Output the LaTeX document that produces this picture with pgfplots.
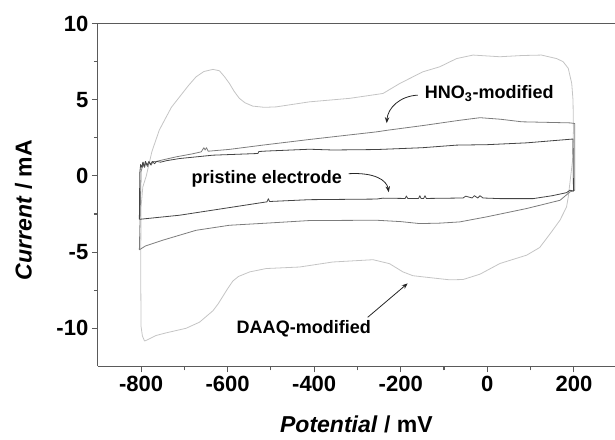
\documentclass[border=0pt]{standalone}
\usepackage{fontspec}
\setmainfont{Liberation Sans}
\usepackage{pgfplots}
\pgfplotsset{compat=1.18}
\usetikzlibrary{arrows.meta}
\definecolor{pristine}{HTML}{444444}
\definecolor{hno}{HTML}{7C7C7C}
\definecolor{daaq}{HTML}{C4C4C4}
\definecolor{frame}{HTML}{5A5A5A}
\begin{document}
\begin{tikzpicture}
\begin{axis}[
  name=ax,
  x=0.4323pt, y=15.22pt,
  xmin=-900, xmax=295, ymin=-12.5, ymax=10,
  axis x line*=box, axis y line*=left,
  tick pos=left, tick align=outside,
  axis line style={frame, line width=1.2pt},
  every tick/.style={frame, line width=1.1pt},
  major tick length=6pt, minor tick length=4pt,
  xtick={-800,-600,-400,-200,0,200},
  xticklabels={-800,-600,-400,-200,0,200},
  minor xtick={-700,-500,-300,-100,100},
  ytick={-10,-5,0,5,10},
  yticklabels={-10,-5,0,5,10},
  minor ytick={-7.5,-2.5,2.5,7.5},
  ticklabel style={font=\bfseries\fontsize{22}{26}\selectfont},
  xlabel={\textbf{\textit{Potential} / mV}},
  ylabel={\textbf{\textit{Current} / mA}},
  label style={font=\fontsize{23}{27}\selectfont},
  xlabel style={at={(axis description cs:0.5,-0.193)}, anchor=base},
  ylabel style={at={(axis description cs:-0.1436,0.456)}, anchor=center},
  clip=false,
]
% DAAQ-modified
\addplot[daaq, line width=0.8pt, line join=round] coordinates {
(-792,-10.84) (-797,-10.5) (-800,-9.9) (-801,-6) (-800,-2) (-796,-0.72)
(-788,0.0) (-775,1.6) (-758,3.0) (-746,3.65) (-730,4.5) (-711,5.19)
(-690,5.95) (-673,6.5) (-655,6.85) (-634,6.99) (-619,6.9) (-607,6.5)
(-596,6.07) (-585,5.55) (-573,5.09) (-560,4.8) (-542,4.58) (-515,4.5)
(-488,4.53) (-411,4.86) (-318,5.09) (-241,5.41) (-202,6.07) (-149,6.83)
(-110,7.16) (-71,7.7) (-33,7.93) (29,7.82) (80,7.9) (125,7.93) (160,7.7)
(175,7.5) (187,7.06) (195,6.07) (198,4.97) (199,3.0) (197,1.03) (187,-1.38)
(183,-2.04) (168,-2.9) (145,-3.8) (121,-4.7) (91,-5.2) (29,-5.75)
(-17,-6.45) (-56,-6.8) (-87,-6.82) (-141,-6.65) (-172,-6.55) (-195,-6.3)
(-226,-5.76) (-264,-5.5) (-357,-5.65) (-434,-5.98) (-511,-6.08) (-549,-6.3)
(-575,-6.6) (-588,-6.9) (-600,-7.4) (-611,-7.9) (-622,-8.4) (-634,-8.85)
(-665,-9.6) (-696,-10.0) (-742,-10.3) (-765,-10.47) (-785,-10.75) (-792,-10.84)
};
% HNO3-modified
\addplot[hno, line width=0.8pt, line join=round] coordinates {
(-804,-4.85) (-801,-1) (-800,0.3) (-797,0.6) (-795,0.9) (-792,0.55)
(-789,0.85) (-785,0.6) (-781,0.9) (-777,0.7) (-772,0.95) (-765,0.95)
(-750,1.05) (-719,1.25) (-681,1.45) (-661,1.58) (-655,1.85) (-652,1.7)
(-649,1.85) (-645,1.62) (-596,1.74) (-519,2.02) (-411,2.39) (-340,2.62)
(-256,2.89) (-230,3.0) (-150,3.3) (-64,3.65) (-17,3.82) (30,3.72)
(80,3.55) (129,3.52) (191,3.48) (202,3.44) (202,-0.94) (191,-1.05)
(168,-1.6) (91,-2.14) (-2,-2.69) (-64,-3.02) (-110,-3.1) (-156,-3.13)
(-200,-3.0) (-256,-2.91) (-411,-2.93) (-510,-3.1) (-596,-3.24) (-673,-3.57)
(-750,-4.22) (-790,-4.6) (-804,-4.85)
};
% pristine electrode
\addplot[pristine, line width=0.8pt, line join=round] coordinates {
(-804,-2.85) (-803,0.2) (-801,0.75) (-798,0.55) (-796,0.9) (-793,0.6)
(-790,0.95) (-786,0.7) (-782,0.95) (-778,0.75) (-774,0.95) (-769,0.8)
(-764,0.95) (-755,0.9) (-741,1.0) (-711,1.14) (-634,1.36) (-530,1.47)
(-528,1.6) (-511,1.63) (-411,1.75) (-357,1.70) (-256,1.73) (-150,1.85)
(-71,2.02) (0,2.05) (91,2.17) (198,2.42) (199,-1.0) (191,-0.94)
(183,-1.1) (150,-1.3) (106,-1.49) (29,-1.49) (-10,-1.45) (-17,-1.3)
(-22,-1.45) (-30,-1.3) (-35,-1.45) (-50,-1.33) (-56,-1.45) (-141,-1.48)
(-144,-1.3) (-147,-1.48) (-153,-1.48) (-156,-1.3) (-159,-1.48) (-184,-1.48)
(-187,-1.32) (-190,-1.48) (-241,-1.46) (-256,-1.52) (-411,-1.56) (-503,-1.68)
(-506,-1.5) (-509,-1.7) (-596,-2.08) (-711,-2.58) (-804,-2.85)
};
% annotations
\node[anchor=west, inner sep=0pt, font=\bfseries\fontsize{18}{21}\selectfont]
  at (axis cs:-144.6,5.40) {HNO\textsubscript{3}-modified};
\node[anchor=west, inner sep=0pt, font=\bfseries\fontsize{18}{21}\selectfont]
  at (axis cs:-683.6,-0.22) {pristine electrode};
\node[anchor=west, inner sep=0pt, font=\bfseries\fontsize{18}{21}\selectfont]
  at (axis cs:-579.5,-10.0) {DAAQ-modified};
\draw[black!85, line width=0.8pt, -{Stealth[length=6pt,width=4.5pt]}]
  (axis cs:-160.8,5.30) .. controls (axis cs:-202.4,5.24) and (axis cs:-230.2,4.45) .. (axis cs:-232.5,3.46);
\draw[black!85, line width=0.8pt, -{Stealth[length=6pt,width=4.5pt]}]
  (axis cs:-320.4,0.145) .. controls (axis cs:-260.2,0.24) and (axis cs:-232.5,-0.28) .. (axis cs:-227.8,-1.07);
\draw[black!85, line width=0.8pt, -{Stealth[length=6pt,width=4.5pt]}]
  (axis cs:-276.4,-9.28) -- (axis cs:-183.9,-7.05);
\end{axis}
\pgfresetboundingbox
\path ([xshift=-97.7pt,yshift=-73pt]ax.south west) rectangle ([yshift=23.5pt]ax.north east);
\end{tikzpicture}
\end{document}
